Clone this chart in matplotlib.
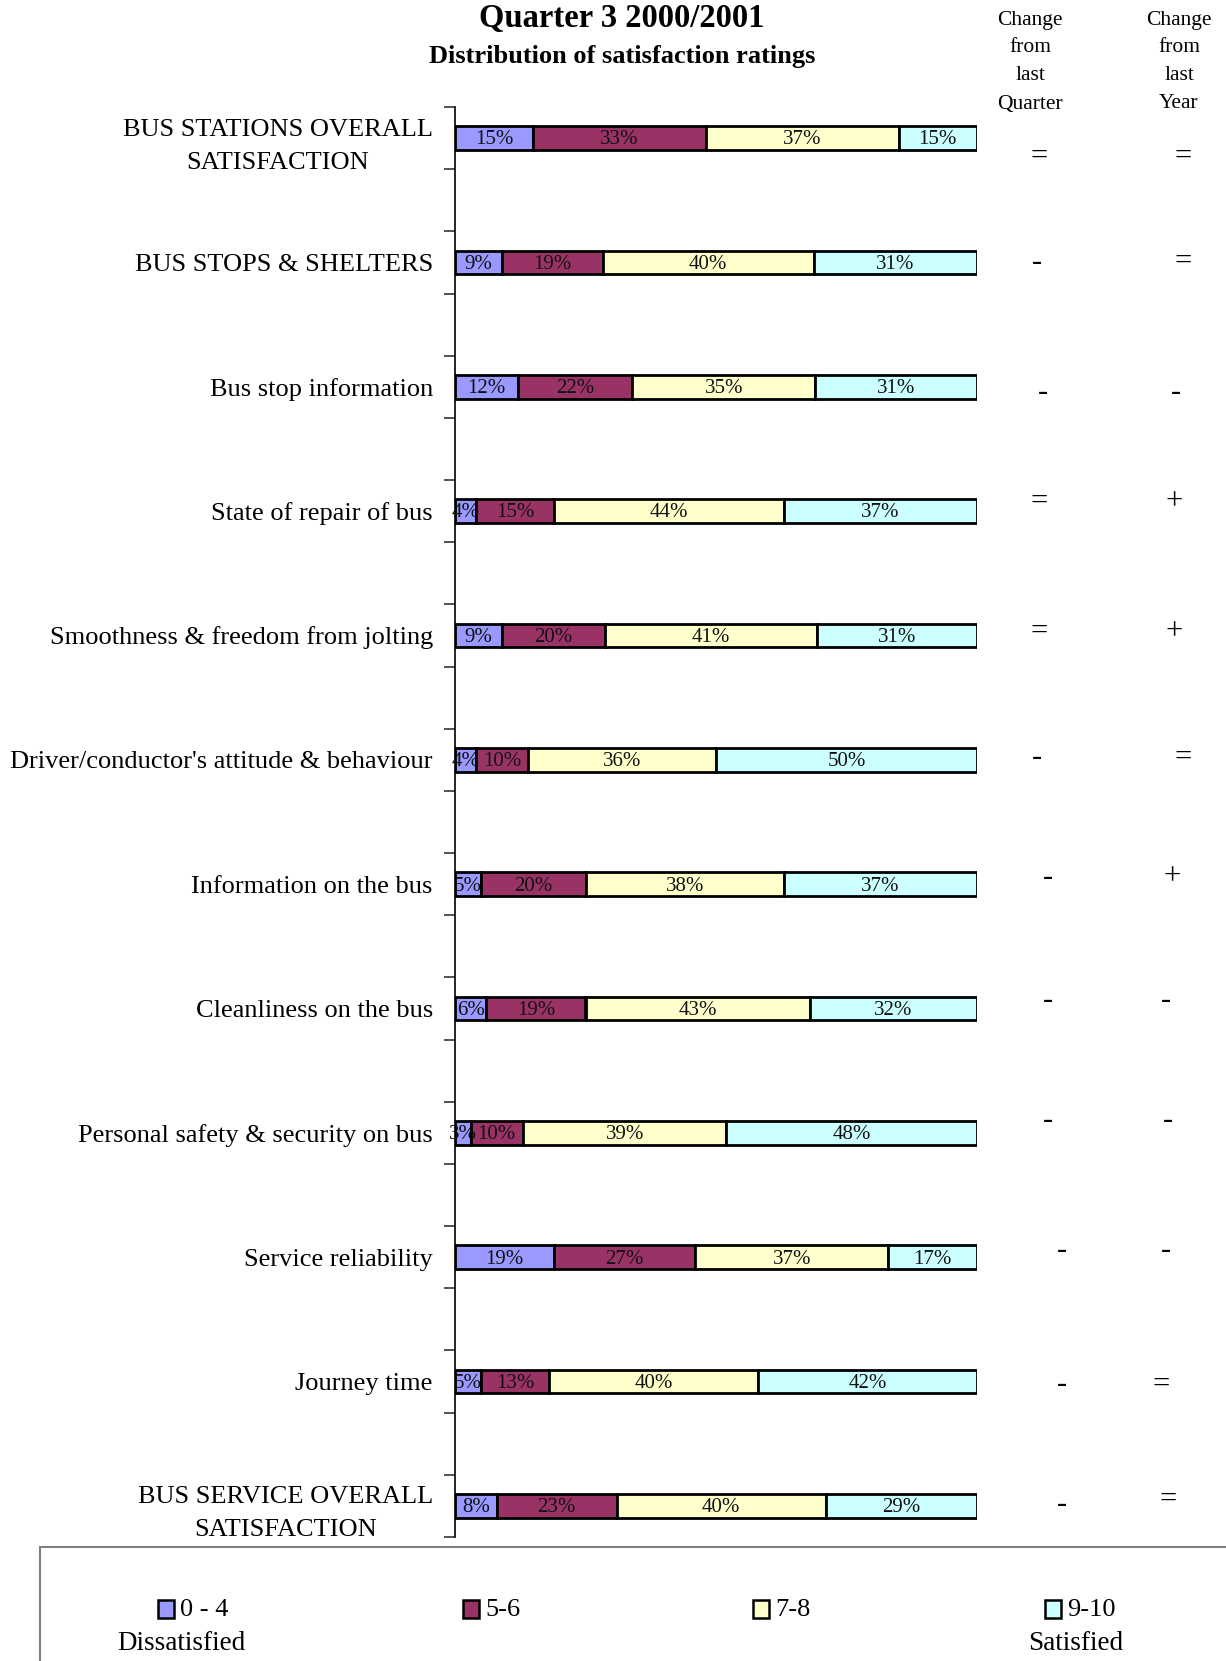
import matplotlib
matplotlib.use("Agg")
import matplotlib.pyplot as plt
from matplotlib.patches import Rectangle
import numpy as np

plt.rcParams["font.family"] = ["Liberation Serif", "DejaVu Serif"]

# ---- data -------------------------------------------------------------
categories = [
    "BUS STATIONS OVERALL\nSATISFACTION",
    "BUS STOPS & SHELTERS",
    "Bus stop information",
    "State of repair of bus",
    "Smoothness & freedom from jolting",
    "Driver/conductor's attitude & behaviour",
    "Information on the bus",
    "Cleanliness on the bus",
    "Personal safety & security on bus",
    "Service reliability",
    "Journey time",
    "BUS SERVICE OVERALL\nSATISFACTION",
]
series_names = ["0 - 4", "5-6", "7-8", "9-10"]
pct_0_4 = [15, 9, 12, 4, 9, 4, 5, 6, 3, 19, 5, 8]
pct_5_6 = [33, 19, 22, 15, 20, 10, 20, 19, 10, 27, 13, 23]
pct_7_8 = [37, 40, 35, 44, 41, 36, 38, 43, 39, 37, 40, 40]
pct_9_10 = [15, 31, 31, 37, 31, 50, 37, 32, 48, 17, 42, 29]
change_quarter = ["=", "-", "-", "=", "=", "-", "-", "-", "-", "-", "-", "-"]
change_year = ["=", "=", "-", "+", "+", "=", "+", "-", "-", "-", "=", "="]

colors = ["#9999FF", "#993366", "#FFFFCC", "#CCFFFF"]

# ---- figure layout (pixels) -------------------------------------------
W, H = 1226, 1661
fig = plt.figure(figsize=(W / 100, H / 100), dpi=100)


def fx(px):
    return px / W


def fy(py):
    return 1 - py / H


ax = fig.add_axes([fx(455), fy(1537), fx(977 - 455), (1537 - 107) / H])

series = [pct_0_4, pct_5_6, pct_7_8, pct_9_10]
vals = np.array(series, dtype=float)
totals = vals.sum(axis=0)
shares = vals / totals
ypos = np.arange(len(categories))

left = np.zeros(len(categories))
for j, (raw, share) in enumerate(zip(series, shares)):
    ax.barh(ypos, share, left=left, height=0.19, color=colors[j],
            edgecolor="black", linewidth=2.0, zorder=2)
    for i in range(len(categories)):
        ax.text(left[i] + share[i] / 2, ypos[i] + 0.015, f"{raw[i]}%",
                ha="center", va="center", fontsize=15, color="#111111",
                zorder=3)
    left += share

ax.set_xlim(0, 1)
ax.set_ylim(len(categories) - 0.75, -0.25)

ax.set_yticks(ypos)
ax.set_yticklabels(categories, fontsize=19, multialignment="center",
                   linespacing=1.65)
ax.set_yticks(np.sort(np.concatenate([ypos - 0.25, ypos + 0.25])), minor=True)
ax.tick_params(axis="y", which="major", length=0, pad=16)
ax.tick_params(axis="y", which="minor", length=8, width=1.2, color="#333333")
ax.set_xticks([])
for side in ["top", "right", "bottom"]:
    ax.spines[side].set_visible(False)
ax.spines["left"].set_linewidth(1.2)

# ---- titles -----------------------------------------------------------
fig.text(fx(622), fy(18), "Quarter 3 2000/2001", ha="center", va="center",
         fontsize=23.5, fontweight="bold")
fig.text(fx(622), fy(56), "Distribution of satisfaction ratings",
         ha="center", va="center", fontsize=19, fontweight="bold")

# ---- change columns ---------------------------------------------------
for x, word in [(1030, "Quarter"), (1179, "Year")]:
    for k, line in enumerate(["Change", "from", "last", word]):
        fig.text(fx(x), fy(20 + k * 28), line, ha="center", va="center",
                 fontsize=15.5)

quarter_xy = [(1039, 157), (1037, 262), (1043, 393), (1039, 502),
              (1039, 632), (1037, 758), (1048, 877), (1048, 1001),
              (1048, 1121), (1062, 1250), (1062, 1385), (1062, 1504)]
year_xy = [(1183, 157), (1183, 262), (1176, 393), (1174, 502),
           (1174, 632), (1183, 758), (1172, 877), (1166, 1001),
           (1168, 1121), (1166, 1250), (1161, 1385), (1168, 1500)]
for sym, (x, y) in zip(change_quarter, quarter_xy):
    fig.text(fx(x), fy(y), sym, ha="center", va="center", fontsize=22)
for sym, (x, y) in zip(change_year, year_xy):
    fig.text(fx(x), fy(y), sym, ha="center", va="center", fontsize=22)

# ---- legend -----------------------------------------------------------
fig.patches.append(Rectangle((fx(40), fy(1700)), fx(1300), (1700 - 1547) / H,
                             transform=fig.transFigure, facecolor="none",
                             edgecolor="#7f7f7f", linewidth=1.5))
legend_x = [158, 463, 753, 1045]
for name, col, x in zip(series_names, colors, legend_x):
    fig.patches.append(Rectangle((fx(x), fy(1618)), fx(16), 18 / H,
                                 transform=fig.transFigure, facecolor=col,
                                 edgecolor="black", linewidth=1.8))
    fig.text(fx(x + 22), fy(1610), name, ha="left", va="center", fontsize=19)
fig.text(fx(181), fy(1644), "Dissatisfied", ha="center", va="center",
         fontsize=19.5)
fig.text(fx(1076), fy(1644), "Satisfied", ha="center", va="center",
         fontsize=19.5)

fig.savefig("out.png", dpi=100)
